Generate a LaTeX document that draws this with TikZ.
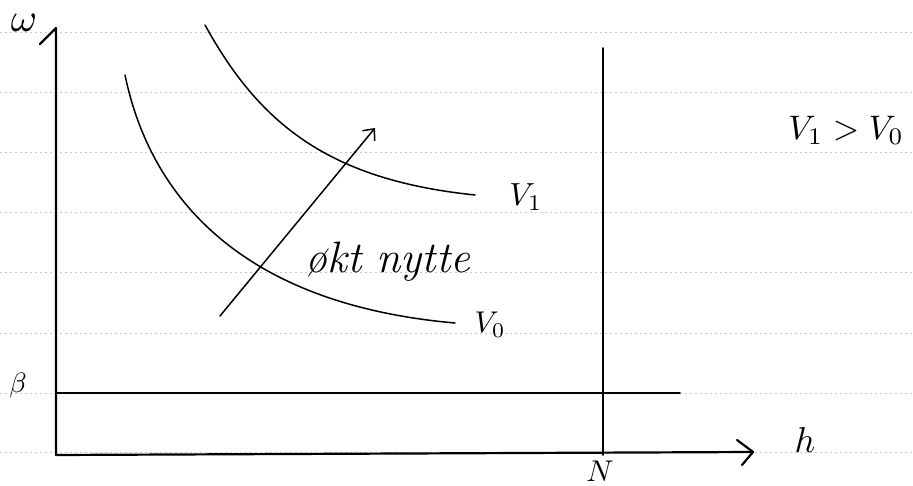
\documentclass[tikz,border=0pt]{standalone}
\usetikzlibrary{arrows.meta}
\begin{document}
\begin{tikzpicture}[x=1pt,y=-1pt,
  ruled/.style={black!22,line width=0.6pt,dash pattern=on 2pt off 3pt},
  axisline/.style={black,line width=2.2pt,line cap=round,line join=round},
  curveline/.style={black,line width=1.5pt,line cap=round},
  hand/.style={inner sep=0pt}]
\fill[white] (0,0) rectangle (913,486);
\useasboundingbox (0,0) rectangle (913,486);
% ruled paper lines
\foreach \yy in {32,92,152,212,272,333,393,452}
  \draw[ruled] (0,\yy) -- (913,\yy);
% axes
\coordinate (hook) at (40,44);
\coordinate (ytop) at (56,28);
\coordinate (origin) at (56,455);
\coordinate (xend) at (753,452);
\coordinate (xb1) at (737,440);
\coordinate (xb2) at (742,465);
\draw[axisline] (hook) -- (ytop) -- (origin) -- (xend);
\draw[axisline] (xb1) -- (xend) -- (xb2);
% beta line
\coordinate (b0) at (56,393);
\coordinate (b1) at (680,393);
\draw[axisline,line width=1.7pt] (b0) -- (b1);
% N line
\coordinate (ntop) at (603,48);
\coordinate (nbot) at (603,455);
\draw[axisline,line width=1.9pt] (ntop) -- (nbot);
% indifference curves
\coordinate (v1s) at (205,25);
\coordinate (v1e) at (475,195);
\coordinate (v0s) at (125,75);
\coordinate (v0e) at (455,323);
\draw[curveline] (v1s) .. controls (260,125) and (330,180) .. (v1e);
\draw[curveline] (v0s) .. controls (152,205) and (250,305) .. (v0e);
% arrow
\coordinate (a0) at (220,316);
\coordinate (a1) at (375,128);
\draw[curveline,-{Straight Barb[length=9pt,width=16pt,line width=1.5pt]}] (a0) -- (a1);
% labels
\node[hand,scale=4.0] (omega) at (24,23) {$\omega$};
\node[hand,scale=2.8] (beta) at (18,385) {$\beta$};
\node[hand,scale=3.6] (hlab) at (805,440) {$h$};
\node[hand,scale=3.0] (nlab) at (600,471) {$N$};
\node[hand,scale=3.2] (v1) at (526,197) {$V_1$};
\node[hand,scale=3.0] (v0) at (490,325) {$V_0$};
\node[hand,scale=3.4] (ineq) at (846,130) {$V_1 > V_0$};
\node[hand,font=\fontsize{44}{44}\selectfont\itshape,anchor=base west] (nytte) at (305,273) {økt nytte};
\end{tikzpicture}
\end{document}
